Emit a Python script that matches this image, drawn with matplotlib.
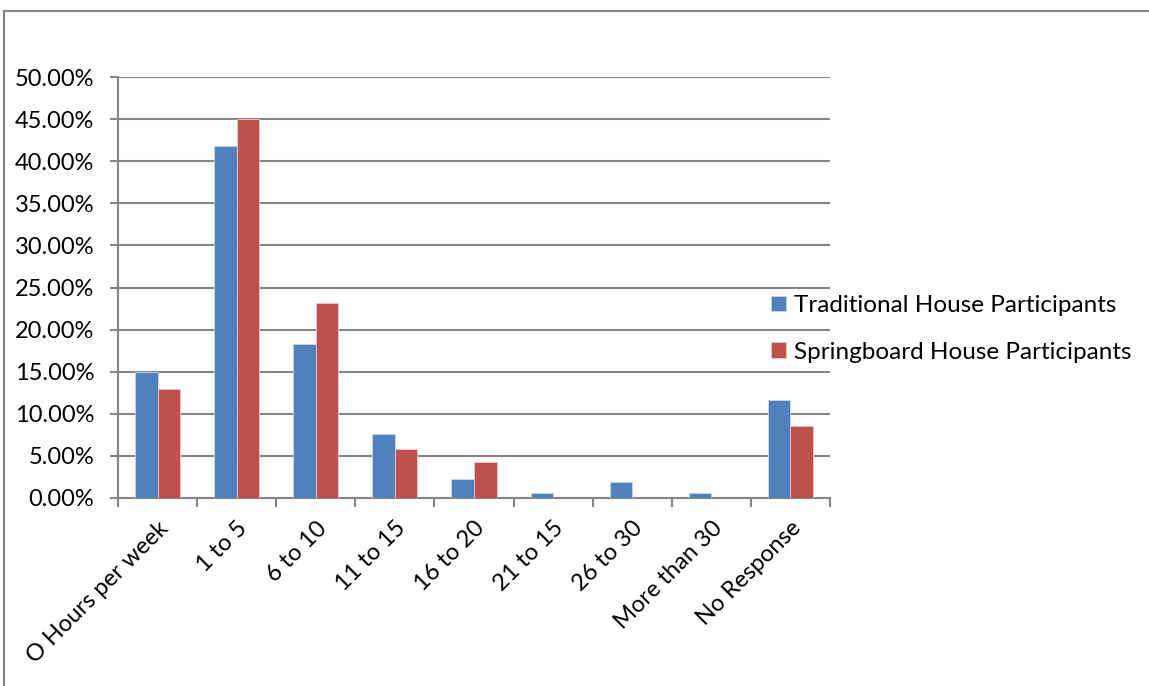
import numpy as np
import matplotlib
matplotlib.use("Agg")
import matplotlib.pyplot as plt
from matplotlib.lines import Line2D
from matplotlib.ticker import FuncFormatter, FixedLocator

# ── data ─────────────────────────────────────────────────────────────────────
categories = ["O Hours per week", "1 to 5", "6 to 10", "11 to 15", "16 to 20",
              "21 to 15", "26 to 30", "More than 30", "No Response"]
traditional = [15.0, 41.8, 18.3, 7.6, 2.3, 0.63, 1.9, 0.63, 11.6]
springboard = [13.0, 45.0, 23.2, 5.8, 4.3, 0.0, 0.0, 0.0, 8.6]
series_names = ["Traditional House Participants", "Springboard House Participants"]
# ─────────────────────────────────────────────────────────────────────────────

BLUE = "#4F81BD"
RED = "#C0504D"
GRID = "#868686"
FS = 17

plt.rcParams["font.family"] = ["Lato", "DejaVu Sans"]

fig = plt.figure(figsize=(11.49, 6.86), dpi=100)
ax = fig.add_axes([118 / 1149, 1 - 498 / 686, (830 - 118) / 1149, (498 - 77) / 686])

x = np.arange(len(categories))
w = 0.285
ax.bar(x - w / 2, traditional, w, color=BLUE, edgecolor="#c9d6ea", linewidth=0.6,
       label=series_names[0], zorder=3)
ax.bar(x + w / 2, springboard, w, color=RED, edgecolor="#ecc9c8", linewidth=0.6,
       label=series_names[1], zorder=3)

ax.set_xlim(-0.5, len(categories) - 0.5)
ax.set_ylim(0, 50)
ax.set_yticks(np.arange(0, 50.01, 5))
ax.yaxis.set_major_formatter(FuncFormatter(lambda v, p: f"{v:.2f}%"))
ax.grid(axis="y", color=GRID, linewidth=1.5, zorder=0)

# category labels at centres, ticks at the boundaries
ax.set_xticks(x)
ax.set_xticklabels(categories, rotation=45, ha="right", va="top",
                   rotation_mode="anchor", fontsize=FS)
ax.tick_params(axis="x", length=0, pad=14)
ax.xaxis.set_minor_locator(FixedLocator(np.arange(-0.5, len(categories), 1)))
ax.tick_params(axis="x", which="minor", length=6.5, width=1.5, color=GRID, direction="out")
ax.tick_params(axis="y", length=6, width=1.5, color=GRID, labelsize=FS, pad=11)

for s in ["top", "right"]:
    ax.spines[s].set_visible(False)
for s in ["left", "bottom"]:
    ax.spines[s].set_color(GRID)
    ax.spines[s].set_linewidth(1.5)

fig.legend(handles=ax.get_legend_handles_labels()[0], loc="center left",
           bbox_to_anchor=(771 / 1149, 1 - 329 / 686), frameon=False,
           fontsize=17.5, handlelength=0.6, handleheight=0.6, handletextpad=0.35,
           labelspacing=1.05, borderpad=0, borderaxespad=0)

# chart-area border (top and left visible in the reference)
fig.add_artist(Line2D([4 / 1149, 1.0], [1 - 11 / 686, 1 - 11 / 686],
                      transform=fig.transFigure, color=GRID, linewidth=1.5))
fig.add_artist(Line2D([4 / 1149, 4 / 1149], [0.0, 1 - 11 / 686],
                      transform=fig.transFigure, color=GRID, linewidth=1.5))

fig.savefig("out.png", dpi=100)
